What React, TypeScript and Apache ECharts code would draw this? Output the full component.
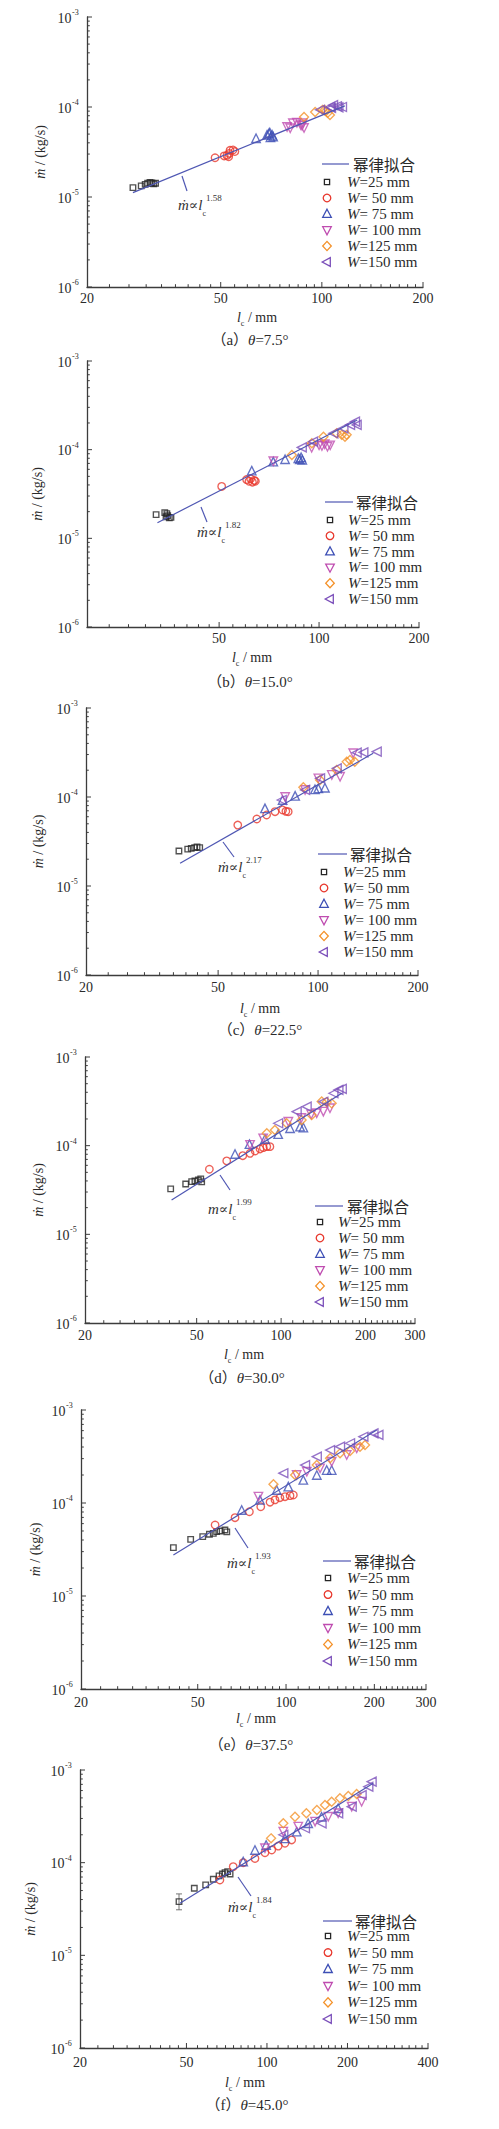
import React, { useEffect, useRef } from "react";
import * as echarts from "echarts";

const SERIF = "'Times New Roman', 'Liberation Serif', 'DejaVu Serif', serif";
const CJK = "'Noto Sans CJK SC', 'Noto Sans CJK JP', sans-serif";
const AXIS = "#3c3c3c";
const TEXT = "#2a2a2a";
const FIT_COLOR = "#4f57b3";

const SERIES_NAMES = ["W=25 mm", "W= 50 mm", "W= 75 mm", "W= 100 mm", "W=125 mm", "W=150 mm"];
const LEGEND_TAILS = ["=25 mm", "= 50 mm", "= 75 mm", "= 100 mm", "=125 mm", "=150 mm"];
const FIT_NAME = "幂律拟合";

// ---- axis ticks ----
const Y_MIN = 1e-6;
const Y_MAX = 1e-3;
const X_MIN = 20;
const Y_MAJOR = [1e-6, 1e-5, 1e-4, 1e-3];
const Y_MINOR = [
  2e-6, 3e-6, 4e-6, 5e-6, 6e-6, 7e-6, 8e-6, 9e-6,
  2e-5, 3e-5, 4e-5, 5e-5, 6e-5, 7e-5, 8e-5, 9e-5,
  2e-4, 3e-4, 4e-4, 5e-4, 6e-4, 7e-4, 8e-4, 9e-4,
];
const X_MINOR_200 = [
  23.33, 26.67, 30, 33.33, 36.67, 40, 43.33, 46.67,
  55, 60, 65, 70, 75, 80, 85, 90, 95,
  110, 120, 130, 140, 150, 160, 170, 180, 190,
];
const X_MINOR_300 = [...X_MINOR_200, 210, 220, 230, 240, 250, 260, 270, 280, 290];
const X_MINOR_400 = [...X_MINOR_200, 220, 240, 260, 280, 300, 320, 340, 360, 380];
const X_LABELS_200 = [20, 50, 100, 200];
const X_LABELS_200_NO20 = [50, 100, 200];
const X_LABELS_300 = [20, 50, 100, 200, 300];
const X_LABELS_400 = [20, 50, 100, 200, 400];
const X_MAJOR_200 = [50, 100, 200];
const X_MAJOR_300 = [50, 100, 200, 300];
const X_MAJOR_400 = [50, 100, 200, 400];

// ---- (a) theta = 7.5 ----
const aW25 = [[27.4, 1.27e-5], [29.0, 1.33e-5], [29.8, 1.38e-5], [30.3, 1.42e-5], [30.8, 1.45e-5], [31.2, 1.43e-5], [31.6, 1.4e-5], [32.0, 1.42e-5]];
const aW50 = [[48.1, 2.73e-5], [51.2, 2.86e-5], [52.2, 2.9e-5], [52.8, 2.8e-5], [53.0, 3.05e-5], [53.3, 3.3e-5], [54.4, 3.33e-5], [55.1, 3.2e-5]];
const aW75 = [[63.7, 4.5e-5], [68.7, 4.9e-5], [69.6, 5.1e-5], [70.0, 5.2e-5], [70.3, 4.6e-5], [71.1, 4.9e-5], [71.6, 4.7e-5]];
const aW100 = [[78.8, 6.0e-5], [80.5, 5.8e-5], [82.0, 6.6e-5], [84.3, 6.7e-5], [86.5, 6.3e-5], [87.3, 6.2e-5], [87.8, 6.6e-5], [88.5, 5.85e-5]];
const aW125 = [[88.5, 7.74e-5], [95.5, 8.8e-5], [100.5, 9.3e-5], [102.0, 9.26e-5], [103.0, 9.0e-5], [104.0, 8.6e-5], [105.7, 8.15e-5]];
const aW150 = [[98.7, 9.3e-5], [105.7, 1.0e-4], [106.5, 9.8e-5], [108.0, 1.05e-4], [110.9, 1.02e-4], [112.0, 9.9e-5], [114.8, 1.0e-4]];
const aFit = [[27.4, 1.12e-5], [117.0, 1.03e-4]];

// ---- (b) theta = 15.0 ----
const bW25 = [[32.3, 1.85e-5], [34.3, 1.95e-5], [34.6, 1.75e-5], [34.8, 1.9e-5], [35.0, 1.8e-5], [35.4, 1.7e-5], [35.8, 1.72e-5]];
const bW50 = [[50.9, 3.85e-5], [60.5, 4.6e-5], [61.5, 4.4e-5], [62.2, 4.7e-5], [63.0, 4.3e-5], [63.8, 4.5e-5], [64.3, 4.4e-5]];
const bW75 = [[62.7, 5.8e-5], [72.8, 7.33e-5], [79.0, 7.8e-5], [86.6, 8.0e-5], [87.5, 7.8e-5], [88.3, 8.2e-5], [89.0, 7.7e-5]];
const bW100 = [[72.8, 7.4e-5], [95.0, 1.05e-4], [100.0, 1.12e-4], [102.0, 1.1e-4], [104.0, 1.15e-4], [106.0, 1.08e-4], [108.0, 1.12e-4]];
const bW125 = [[82.8, 8.7e-5], [95.1, 1.18e-4], [103.1, 1.4e-4], [113.0, 1.53e-4], [117.0, 1.47e-4], [119.7, 1.4e-4], [121.1, 1.47e-4]];
const bW150 = [[88.7, 1.06e-4], [95.9, 1.23e-4], [110.4, 1.53e-4], [118.4, 1.74e-4], [124.0, 1.9e-4], [128.3, 2.07e-4], [129.8, 1.9e-4]];
const bFit = [[32.6, 1.5e-5], [130.3, 2.16e-4]];

// ---- (c) theta = 22.5 ----
const cW25 = [[38.1, 2.47e-5], [40.5, 2.6e-5], [41.5, 2.65e-5], [42.5, 2.7e-5], [43.2, 2.75e-5], [44.0, 2.7e-5]];
const cW50 = [[57.3, 4.84e-5], [65.4, 5.66e-5], [70.0, 6.28e-5], [74.2, 6.84e-5], [78.2, 7.15e-5], [80.0, 6.9e-5], [81.3, 6.84e-5]];
const cW75 = [[69.2, 7.46e-5], [78.2, 9.25e-5], [85.3, 1.03e-4], [97.9, 1.22e-4], [100.2, 1.25e-4], [104.9, 1.27e-4]];
const cW100 = [[79.6, 1.0e-4], [91.4, 1.2e-4], [100.2, 1.62e-4], [110.0, 1.77e-4], [116.5, 1.69e-4], [127.6, 3.1e-4]];
const cW125 = [[90.3, 1.29e-4], [101.4, 1.55e-4], [113.8, 2.01e-4], [122.0, 2.49e-4], [124.8, 2.6e-4], [129.0, 2.49e-4]];
const cW150 = [[77.7, 9.25e-5], [91.4, 1.2e-4], [101.4, 1.62e-4], [113.8, 2.1e-4], [130.7, 3.15e-4], [136.9, 3.18e-4], [150.2, 3.23e-4]];
const cFit = [[38.4, 1.8e-5], [146.6, 3.1e-4]];

// ---- (d) theta = 30.0 ----
const dW25 = [[40.4, 3.25e-5], [45.7, 3.7e-5], [48.0, 3.93e-5], [49.3, 4.0e-5], [50.7, 4.1e-5], [51.7, 4.22e-5], [52.1, 3.9e-5]];
const dW50 = [[55.5, 5.42e-5], [64.0, 6.73e-5], [73.0, 7.71e-5], [77.5, 8.2e-5], [80.8, 8.71e-5], [84.1, 9.18e-5], [86.4, 9.5e-5], [88.9, 9.75e-5], [91.2, 9.75e-5]];
const dW75 = [[68.5, 8.06e-5], [77.1, 1.04e-4], [87.6, 1.19e-4], [97.6, 1.35e-4], [107.6, 1.57e-4], [116.8, 1.64e-4], [120.0, 1.6e-4]];
const dW100 = [[77.5, 1.02e-4], [86.3, 1.21e-4], [106.1, 1.86e-4], [118.0, 2.05e-4], [128.0, 2.25e-4], [133.9, 2.32e-4], [141.4, 2.42e-4], [149.3, 2.64e-4]];
const dW125 = [[88.9, 1.38e-4], [95.0, 1.5e-4], [104.6, 1.79e-4], [118.3, 1.95e-4], [128.5, 2.22e-4], [139.5, 3.15e-4], [145.3, 3.1e-4], [151.4, 3.0e-4]];
const dW150 = [[97.6, 1.79e-4], [113.6, 2.42e-4], [123.3, 2.75e-4], [141.4, 3.13e-4], [153.6, 3.9e-4], [160.0, 4.25e-4], [164.5, 4.36e-4]];
const dFit = [[40.7, 2.44e-5], [164.5, 3.9e-4]];

// ---- (e) theta = 37.5 ----
const eW25 = [[41.3, 3.31e-5], [47.3, 4.07e-5], [52.0, 4.35e-5], [54.8, 4.61e-5], [56.5, 4.72e-5], [58.0, 4.92e-5], [59.6, 5.0e-5], [61.9, 5.13e-5], [62.8, 4.9e-5]];
const eW50 = [[57.3, 5.8e-5], [67.0, 6.95e-5], [75.0, 8.05e-5], [82.0, 9.12e-5], [88.2, 1.02e-4], [91.7, 1.08e-4], [95.3, 1.14e-4], [99.2, 1.17e-4], [103.2, 1.2e-4], [105.9, 1.22e-4]];
const eW75 = [[70.6, 8.41e-5], [81.5, 1.08e-4], [92.9, 1.38e-4], [101.8, 1.5e-4], [114.5, 1.77e-4], [127.3, 2.0e-4], [137.6, 2.26e-4], [143.1, 2.26e-4]];
const eW100 = [[80.5, 1.17e-4], [108.7, 2.0e-4], [117.7, 2.17e-4], [130.6, 2.36e-4], [143.1, 2.78e-4], [161.0, 3.28e-4], [174.2, 3.87e-4]];
const eW125 = [[90.6, 1.59e-4], [107.4, 2.0e-4], [127.3, 2.56e-4], [141.3, 3.03e-4], [152.8, 3.42e-4], [165.3, 3.62e-4], [178.7, 4.03e-4], [185.9, 4.2e-4]];
const eW150 = [[97.9, 2.09e-4], [116.1, 2.56e-4], [127.3, 3.15e-4], [141.3, 3.71e-4], [152.8, 4.03e-4], [165.3, 4.39e-4], [183.5, 5.16e-4], [198.6, 5.61e-4], [206.5, 5.39e-4]];
const eFit = [[41.3, 2.76e-5], [203.7, 6.1e-4]];

// ---- (f) theta = 45.0 ----
const fW25 = [[46.9, 3.8e-5], [53.5, 5.3e-5], [59.0, 5.75e-5], [63.0, 6.62e-5], [66.2, 7.19e-5], [68.1, 7.55e-5], [69.7, 7.8e-5], [71.3, 8.0e-5], [72.8, 7.55e-5]];
const fW25Err = [[46.9, 3.1e-5, 4.6e-5]];
const fW50 = [[66.7, 6.5e-5], [74.8, 9.06e-5], [81.5, 1.0e-4], [90.2, 1.11e-4], [98.3, 1.28e-4], [104.2, 1.37e-4], [110.2, 1.51e-4], [116.8, 1.62e-4], [123.7, 1.76e-4]];
const fW75 = [[81.5, 1.03e-4], [90.2, 1.37e-4], [99.3, 1.55e-4], [116.8, 1.83e-4], [129.2, 2.16e-4], [142.6, 2.66e-4], [160.0, 3.13e-4], [184.6, 3.86e-4]];
const fW100 = [[98.3, 1.43e-4], [115.1, 2.16e-4], [130.9, 2.45e-4], [151.3, 2.77e-4], [169.5, 3.13e-4], [184.6, 3.41e-4], [207.4, 4.02e-4], [225.9, 4.55e-4]];
const fW125 = [[103.6, 1.83e-4], [115.1, 2.66e-4], [127.3, 3.13e-4], [140.4, 3.41e-4], [153.7, 3.7e-4], [164.8, 4.19e-4], [174.5, 4.55e-4], [187.4, 4.95e-4], [201.4, 5.25e-4], [216.4, 5.51e-4]];
const fW150 = [[115.1, 2.0e-4], [138.7, 2.35e-4], [160.0, 2.66e-4], [184.6, 3.41e-4], [207.4, 4.02e-4], [225.9, 5.37e-4], [239.3, 6.6e-4], [246.2, 7.48e-4]];
const fFit = [[47.3, 3.65e-5], [249.6, 7.19e-4]];

const MARKERS = [
  { symbol: "rect", size: 5.5, rotate: 0, color: "#262626" },
  { symbol: "circle", size: 7.5, rotate: 0, color: "#e8382d" },
  { symbol: "triangle", size: 8.5, rotate: 0, color: "#3d4fb5" },
  { symbol: "triangle", size: 8.5, rotate: 180, color: "#bf4cb0" },
  { symbol: "diamond", size: 9, rotate: 0, color: "#f4922a" },
  { symbol: "triangle", size: 9, rotate: 90, color: "#7b4fba" },
];

const PANELS = [
  {
    letter: "a", theta: "7.5°", exp: "1.58", dot: true,
    left: 87, top: 17, width: 336, height: 270, xMax: 200,
    labels: X_LABELS_200, majors: X_MAJOR_200, minors: X_MINOR_200,
    series: [aW25, aW50, aW75, aW100, aW125, aW150], fit: aFit, err: null,
    labelDy: 11, nameX: 257, nameY: 317, capX: 250, capY: 340, yNameX: 40,
    lg: { lx1: 322, lx2: 349, ly: 164, tx: 353, mx: 327, ry: 182, gap: 16, labx: 347 },
    ann: { x: 178, y: 205, line: [182, 176, 187, 191] },
  },
  {
    letter: "b", theta: "15.0°", exp: "1.82", dot: true,
    left: 87, top: 361, width: 332, height: 266, xMax: 200,
    labels: X_LABELS_200_NO20, majors: X_MAJOR_200, minors: X_MINOR_200,
    series: [bW25, bW50, bW75, bW100, bW125, bW150], fit: bFit, err: null,
    labelDy: 11, nameX: 252, nameY: 657, capX: 250, capY: 682, yNameX: 37,
    lg: { lx1: 325, lx2: 353, ly: 502, tx: 356, mx: 330, ry: 520, gap: 15.8, labx: 348 },
    ann: { x: 197, y: 532, line: [201, 507, 207, 522] },
  },
  {
    letter: "c", theta: "22.5°", exp: "2.17", dot: true,
    left: 86, top: 708, width: 332, height: 267, xMax: 200,
    labels: X_LABELS_200, majors: X_MAJOR_200, minors: X_MINOR_200,
    series: [cW25, cW50, cW75, cW100, cW125, cW150], fit: cFit, err: null,
    labelDy: 12, nameX: 260, nameY: 1008, capX: 260, capY: 1030, yNameX: 38,
    lg: { lx1: 318, lx2: 347, ly: 854, tx: 350, mx: 324, ry: 872, gap: 16, labx: 343 },
    ann: { x: 218, y: 867, line: [223, 842, 234, 857] },
  },
  {
    letter: "d", theta: "30.0°", exp: "1.99", dot: false,
    left: 85, top: 1057, width: 330, height: 266, xMax: 300,
    labels: X_LABELS_300, majors: X_MAJOR_300, minors: X_MINOR_300,
    series: [dW25, dW50, dW75, dW100, dW125, dW150], fit: dFit, err: null,
    labelDy: 12, nameX: 244, nameY: 1354, capX: 242, capY: 1378, yNameX: 38,
    lg: { lx1: 315, lx2: 343, ly: 1206, tx: 347, mx: 320, ry: 1222, gap: 16, labx: 338 },
    ann: { x: 208, y: 1209, line: [220, 1175, 230, 1190] },
  },
  {
    letter: "e", theta: "37.5°", exp: "1.93", dot: true,
    left: 81, top: 1410, width: 345, height: 279, xMax: 300,
    labels: X_LABELS_300, majors: X_MAJOR_300, minors: X_MINOR_300,
    series: [eW25, eW50, eW75, eW100, eW125, eW150], fit: eFit, err: null,
    labelDy: 13, nameX: 256, nameY: 1718, capX: 251, capY: 1745, yNameX: 35,
    lg: { lx1: 323, lx2: 351, ly: 1561, tx: 354, mx: 328, ry: 1578, gap: 16.6, labx: 347 },
    ann: { x: 227, y: 1563, line: [235, 1528, 248, 1548] },
  },
  {
    letter: "f", theta: "45.0°", exp: "1.84", dot: true,
    left: 80, top: 1770, width: 348, height: 278, xMax: 400,
    labels: X_LABELS_400, majors: X_MAJOR_400, minors: X_MINOR_400,
    series: [fW25, fW50, fW75, fW100, fW125, fW150], fit: fFit, err: fW25Err,
    labelDy: 14, nameX: 245, nameY: 2082, capX: 247, capY: 2105, yNameX: 30,
    lg: { lx1: 323, lx2: 352, ly: 1921, tx: 355, mx: 328, ry: 1936, gap: 16.6, labx: 347 },
    ann: { x: 228, y: 1907, line: [238, 1877, 251, 1896] },
  },
];

function txtStyle(o: any) {
  const s: any = { fill: TEXT, fontFamily: SERIF, fontSize: 14, ...o };
  if (s.align) s.textAlign = s.align;
  if (s.verticalAlign) s.textVerticalAlign = s.verticalAlign;
  return s;
}

function panelSeries(p: any, gi: number) {
  const out: any[] = [];
  p.series.forEach((data: number[][], si: number) => {
    const m = MARKERS[si];
    out.push({
      type: "scatter", name: SERIES_NAMES[si], xAxisIndex: gi, yAxisIndex: gi,
      data, symbol: m.symbol, symbolSize: m.size, symbolRotate: m.rotate,
      itemStyle: { color: "rgba(255,255,255,0)", borderColor: m.color, borderWidth: 1.35 },
      silent: true, z: 3,
    });
  });
  out.push({
    type: "line", name: FIT_NAME, xAxisIndex: gi, yAxisIndex: gi, data: p.fit,
    symbol: "none", showSymbol: false, lineStyle: { color: FIT_COLOR, width: 1.2 }, silent: true, z: 4,
  });
  if (p.err) {
    out.push({
      type: "custom", xAxisIndex: gi, yAxisIndex: gi, silent: true, z: 2, data: p.err,
      renderItem: (params: any, api: any) => {
        const lo = api.coord([api.value(0), api.value(1)]);
        const hi = api.coord([api.value(0), api.value(2)]);
        const st = { stroke: "#666", lineWidth: 0.9 };
        return {
          type: "group", children: [
            { type: "line", shape: { x1: lo[0], y1: lo[1], x2: hi[0], y2: hi[1] }, style: st },
            { type: "line", shape: { x1: lo[0] - 3, y1: lo[1], x2: lo[0] + 3, y2: lo[1] }, style: st },
            { type: "line", shape: { x1: hi[0] - 3, y1: hi[1], x2: hi[0] + 3, y2: hi[1] }, style: st },
          ],
        };
      },
    });
  }
  // x ticks
  out.push({
    type: "custom", xAxisIndex: gi, yAxisIndex: gi, silent: true, clip: false, z: 5,
    data: [...p.majors.map((v: number) => [v, Y_MIN, 1]), ...p.minors.map((v: number) => [v, Y_MIN, 0])],
    renderItem: (params: any, api: any) => {
      const pt = api.coord([api.value(0), api.value(1)]);
      const len = api.value(2) ? 5 : 2.8;
      return { type: "line", shape: { x1: pt[0], y1: pt[1], x2: pt[0], y2: pt[1] - len }, style: { stroke: AXIS, lineWidth: 1 } };
    },
  });
  // y ticks
  out.push({
    type: "custom", xAxisIndex: gi, yAxisIndex: gi, silent: true, clip: false, z: 5,
    data: [...Y_MAJOR.map((v) => [X_MIN, v, 1]), ...Y_MINOR.map((v) => [X_MIN, v, 0])],
    renderItem: (params: any, api: any) => {
      const pt = api.coord([api.value(0), api.value(1)]);
      const len = api.value(2) ? 5 : 2.8;
      return { type: "line", shape: { x1: pt[0], y1: pt[1], x2: pt[0] + len, y2: pt[1] }, style: { stroke: AXIS, lineWidth: 1 } };
    },
  });
  // x labels
  out.push({
    type: "custom", xAxisIndex: gi, yAxisIndex: gi, silent: true, clip: false, z: 5,
    data: p.labels.map((v: number) => [v, Y_MIN]),
    renderItem: (params: any, api: any) => {
      const v = api.value(0);
      const pt = api.coord([v, api.value(1)]);
      return {
        type: "text", x: pt[0], y: pt[1] + p.labelDy,
        style: txtStyle({ text: String(v), align: "center", verticalAlign: "middle" }),
      };
    },
  });
  // y labels
  out.push({
    type: "custom", xAxisIndex: gi, yAxisIndex: gi, silent: true, clip: false, z: 5,
    data: Y_MAJOR.map((v) => [X_MIN, v]),
    renderItem: (params: any, api: any) => {
      const v = api.value(1);
      const pt = api.coord([api.value(0), v]);
      const e = Math.round(Math.log10(v));
      return {
        type: "group",
        children: [
          { type: "text", x: pt[0] - 15.5, y: pt[1] + 1, style: txtStyle({ text: "10", align: "right", verticalAlign: "middle" }) },
          { type: "text", x: pt[0] - 15, y: pt[1] - 4.5, style: txtStyle({ text: String(e), fontSize: 8, align: "left", verticalAlign: "middle" }) },
        ],
      };
    },
  });
  return out;
}

function legendMarker(si: number, mx: number, my: number) {
  const c = MARKERS[si].color;
  const st = { fill: "none", stroke: c, lineWidth: 1.3 };
  const r = 4.3;
  switch (si) {
    case 0:
      return { type: "rect", shape: { x: mx - 2.6, y: my - 2.6, width: 5.2, height: 5.2 }, style: st };
    case 1:
      return { type: "circle", shape: { cx: mx, cy: my, r: 3.8 }, style: st };
    case 2:
      return { type: "polygon", shape: { points: [[mx, my - r - 0.5], [mx + r, my + r - 1], [mx - r, my + r - 1]] }, style: st };
    case 3:
      return { type: "polygon", shape: { points: [[mx - r, my - r + 1], [mx + r, my - r + 1], [mx, my + r + 0.5]] }, style: st };
    case 4:
      return { type: "polygon", shape: { points: [[mx, my - r - 0.3], [mx + r, my], [mx, my + r + 0.3], [mx - r, my]] }, style: st };
    default:
      return { type: "polygon", shape: { points: [[mx - r - 0.5, my], [mx + r - 1, my - r], [mx + r - 1, my + r]] }, style: st };
  }
}

function panelGraphics(p: any) {
  const els: any[] = [];
  els.push({
    type: "text", x: p.yNameX, y: p.top + p.height / 2, rotation: Math.PI / 2,
    style: txtStyle({
      text: "{i|ṁ} / (kg/s)", align: "center", verticalAlign: "middle",
      rich: { i: { fontStyle: "italic", fontSize: 14, fontFamily: SERIF, fill: TEXT } },
    }),
  });
  els.push({
    type: "text", x: p.nameX, y: p.nameY,
    style: txtStyle({
      text: "{i|l}{s|c} / mm", align: "center", verticalAlign: "middle", lineHeight: 20,
      rich: {
        i: { fontStyle: "italic", fontSize: 14, fontFamily: SERIF, fill: TEXT, lineHeight: 20 },
        s: { fontSize: 8, fontFamily: SERIF, fill: TEXT, lineHeight: 8, verticalAlign: "bottom" },
      },
    }),
  });
  els.push({
    type: "text", x: p.capX, y: p.capY,
    style: txtStyle({
      text: `（${p.letter}）{i|θ}=${p.theta}`, fontSize: 15, align: "center", verticalAlign: "middle",
      fontFamily: SERIF + ", " + CJK,
      rich: { i: { fontStyle: "italic", fontSize: 15, fontFamily: SERIF, fill: TEXT } },
    }),
  });
  const a = p.ann;
  els.push({
    type: "line", shape: { x1: a.line[0], y1: a.line[1], x2: a.line[2], y2: a.line[3] },
    style: { stroke: FIT_COLOR, lineWidth: 1.2 },
  });
  els.push({
    type: "text", x: a.x, y: a.y,
    style: txtStyle({
      text: `{m|${p.dot ? "ṁ" : "m"}}{o|∝}{m|l}{sub|c}{sup|${p.exp}}`,
      align: "left", verticalAlign: "middle", lineHeight: 24,
      rich: {
        m: { fontStyle: "italic", fontSize: 15, fontFamily: SERIF, fill: "#333", lineHeight: 24 },
        o: { fontSize: 14, fontFamily: SERIF, fill: "#333", lineHeight: 24 },
        sub: { fontSize: 8, fontFamily: SERIF, fill: "#333", lineHeight: 8, verticalAlign: "bottom" },
        sup: { fontSize: 9, fontFamily: SERIF, fill: "#333", lineHeight: 18, verticalAlign: "top" },
      },
    }),
  });
  const g = p.lg;
  els.push({ type: "line", shape: { x1: g.lx1, y1: g.ly, x2: g.lx2, y2: g.ly }, style: { stroke: FIT_COLOR, lineWidth: 1.2 } });
  els.push({
    type: "text", x: g.tx, y: g.ly,
    style: txtStyle({ text: FIT_NAME, fontFamily: CJK, fontSize: 15.5, align: "left", verticalAlign: "middle" }),
  });
  LEGEND_TAILS.forEach((tail, si) => {
    const y = g.ry + si * g.gap;
    els.push(legendMarker(si, g.mx, y));
    els.push({
      type: "text", x: g.labx, y,
      style: txtStyle({
        text: `{i|W}${tail}`, fontSize: 15, align: "left", verticalAlign: "middle",
        rich: { i: { fontStyle: "italic", fontSize: 15, fontFamily: SERIF, fill: TEXT } },
      }),
    });
  });
  return els;
}

function buildOption() {
  const grid: any[] = [];
  const xAxis: any[] = [];
  const yAxis: any[] = [];
  let series: any[] = [];
  let elements: any[] = [];
  PANELS.forEach((p, gi) => {
    grid.push({ left: p.left, top: p.top, width: p.width, height: p.height, containLabel: false, outerBoundsMode: "none" });
    const axisCommon = {
      type: "log", logBase: 10, gridIndex: gi,
      axisLine: { show: true, onZero: false, lineStyle: { color: AXIS, width: 1.3 } },
      axisTick: { show: false }, axisLabel: { show: false }, splitLine: { show: false },
      minorTick: { show: false }, minorSplitLine: { show: false },
    };
    xAxis.push({ ...axisCommon, min: X_MIN, max: p.xMax });
    yAxis.push({ ...axisCommon, min: Y_MIN, max: Y_MAX });
    series = series.concat(panelSeries(p, gi));
    elements = elements.concat(panelGraphics(p));
  });
  return {
    animation: false,
    backgroundColor: "#ffffff",
    grid, xAxis, yAxis, series,
    graphic: { elements },
  };
}

export default function App() {
  const ref = useRef<HTMLDivElement>(null);
  useEffect(() => {
    if (!ref.current) return;
    const chart = echarts.init(ref.current, null, { renderer: "svg" });
    chart.setOption(buildOption() as any);
    return () => chart.dispose();
  }, []);
  return (
    <div
      ref={ref}
      style={{ position: "absolute", left: 0, top: 0, width: 499, height: 2129, background: "#fff" }}
    />
  );
}
